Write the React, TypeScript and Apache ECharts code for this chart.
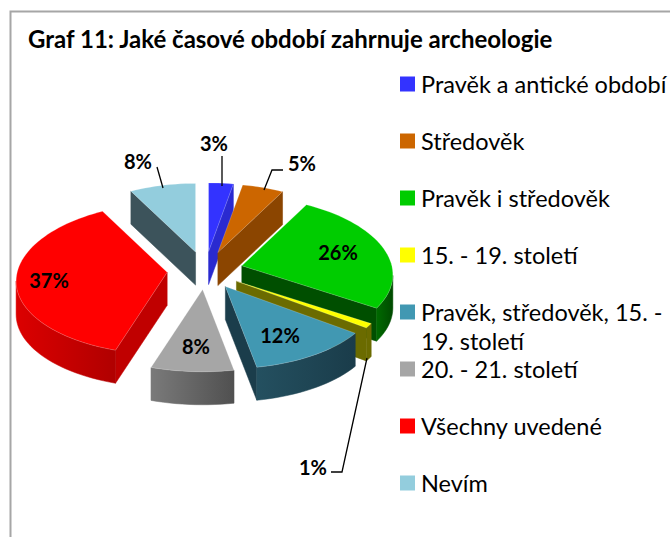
import React, { useEffect, useRef } from "react";
import * as echarts from "echarts";

const categories = [
  "Pravěk a antické období",
  "Středověk",
  "Pravěk i středověk",
  "15. - 19. století",
  "Pravěk, středověk, 15. -\n19. století",
  "20. - 21. století",
  "Všechny uvedené",
  "Nevím",
];
const percentValues = [3, 5, 26, 1, 12, 8, 37, 8];

const topColors = ["#3333FF", "#CC6600", "#00CC00", "#FFFF00", "#4198B2", "#A6A6A6", "#FF0000", "#93CDDD"];
const radialWallColors = ["#2A2AD0", "#8B4500", "#004F00", "#6B6B00", "#1B3D4B", "#555555", "#C00000", "#3C535B"];
const outerWallStart = ["#2A2AD0", "#8B4500", "#006A00", "#6B6B00", "#245060", "#7A7A7A", "#DC0000", "#3C535B"];
const outerWallEnd = ["#2A2AD0", "#8B4500", "#004A00", "#6B6B00", "#1A3C4A", "#505050", "#B00000", "#3C535B"];
const paintOrder = [1, 3, 5, 6, 7, 8, 4, 2]; // series z: back slices first

const labelAnchors = [
  [214, 143], [302, 163], [338, 252], [313, 467], [280, 335], [196, 346], [49, 280], [138, 161],
];
const leaderLines: number[][][] = [
  [[222, 156], [222, 186]],
  [[283, 170], [272, 170], [264, 190]],
  [],
  [[331, 472], [342, 472], [367, 358]],
  [],
  [],
  [],
  [[157, 167], [163, 188]],
];

const FONT = "Lato";
const CX = 205;
const CY = 270.5;
const DEPTH = 33;

function rim(theta: number, ax: number, ay: number) {
  const c = Math.cos(theta);
  return [ax + 150 * Math.sin(theta) * (1 - 0.12 * c), ay - 75.5 * c * (1 - 0.09 * c)];
}

function renderSlice(params: any, api: any) {
  const i = params.seriesIndex;
  const total = percentValues.reduce((a, b) => a + b, 0);
  const before = percentValues.slice(0, i).reduce((a, b) => a + b, 0);
  const value = api.value(0);
  const t0 = (before / total) * 2 * Math.PI;
  const t1 = ((before + value) / total) * 2 * Math.PI;
  const mid = (t0 + t1) / 2;
  const ax = CX + 38 * Math.sin(mid);
  const ay = CY - 19 * Math.cos(mid);

  const arc: number[][] = [];
  const steps = Math.max(2, Math.ceil((t1 - t0) / 0.04));
  for (let k = 0; k <= steps; k++) arc.push(rim(t0 + ((t1 - t0) * k) / steps, ax, ay));

  const down = (p: number[]) => [p[0], p[1] + DEPTH];
  const children: any[] = [];
  const apex = [ax, ay];
  const first = arc[0];
  const last = arc[arc.length - 1];

  const wall = (p: number[][], fill: any) =>
    children.push({ type: "polygon", shape: { points: p }, style: { fill, stroke: fill, lineWidth: 0.5 } });

  if (first[0] < ax - 0.01) wall([apex, first, down(first), down(apex)], radialWallColors[i]);
  if (last[0] > ax + 0.01) wall([apex, last, down(last), down(apex)], radialWallColors[i]);

  const front: number[][] = [];
  for (let k = 0; k < arc.length - 1; k++) {
    if (arc[k + 1][0] < arc[k][0]) {
      if (!front.length) front.push(arc[k]);
      front.push(arc[k + 1]);
    }
  }
  if (front.length > 1) {
    const pts = [...front, ...front.slice().reverse().map(down)];
    wall(
      pts,
      new echarts.graphic.LinearGradient(0, 0, 1, 0, [
        { offset: 0, color: outerWallStart[i] },
        { offset: 1, color: outerWallEnd[i] },
      ])
    );
  }

  children.push({
    type: "polygon",
    shape: { points: [apex, ...arc] },
    style: { fill: topColors[i], stroke: "#ffffff", lineWidth: 0.4, strokeOpacity: 0.5 },
  });

  if (leaderLines[i].length) {
    children.push({
      type: "polyline",
      shape: { points: leaderLines[i] },
      style: { fill: "none", stroke: "#000000", lineWidth: 1.3 },
      z2: 50,
    });
  }
  children.push({
    type: "text",
    x: labelAnchors[i][0],
    y: labelAnchors[i][1],
    style: {
      text: `${value}%`,
      fontFamily: FONT,
      fontWeight: "bold",
      fontSize: 20,
      fill: "#000000",
      align: "center",
      verticalAlign: "middle",
    },
    z2: 60,
  });
  return { type: "group", children };
}

export default function App() {
  const ref = useRef<HTMLDivElement>(null);
  useEffect(() => {
    document.body.style.margin = "0";
    const chart = echarts.init(ref.current!, undefined, { renderer: "svg" });
    chart.setOption({
      animation: false,
      backgroundColor: "#ffffff",
      title: {
        text: "Graf 11: Jaké časové období zahrnuje archeologie",
        left: 28,
        top: 26,
        padding: 0,
        textStyle: { fontFamily: FONT, fontWeight: "bold", fontSize: 24, color: "#000000" },
      },
      legend: {
        orient: "vertical",
        left: 400,
        top: 72,
        padding: 0,
        itemWidth: 15,
        itemHeight: 15,
        itemGap: 33,
        selectedMode: false,
        icon: "rect",
        formatter: (name: string) => name.split("\n")[0],
        textStyle: { fontFamily: FONT, fontSize: 23.5, color: "#000000", padding: [0, 0, 0, 1] },
        data: categories.map((name, i) => ({ name, itemStyle: { color: topColors[i] } })),
      },
      graphic: [
        {
          type: "polyline",
          shape: { points: [[10.5, 537], [10.5, 11.5], [670, 11.5]] },
          style: { fill: "none", stroke: "#A6A6A6", lineWidth: 2 },
        },
        {
          type: "text",
          x: 421,
          y: 341,
          style: {
            text: categories[4].split("\n")[1],
            fontFamily: FONT,
            fontSize: 23.5,
            fill: "#000000",
            verticalAlign: "middle",
          },
        },
      ],
      series: categories.map((name, i) => ({
        type: "custom",
        name,
        coordinateSystem: "none",
        z: 2 + paintOrder[i],
        itemStyle: { color: topColors[i] },
        data: [[percentValues[i]]],
        renderItem: renderSlice,
      })),
    });
    return () => chart.dispose();
  }, []);
  return <div ref={ref} style={{ width: 670, height: 537 }} />;
}
